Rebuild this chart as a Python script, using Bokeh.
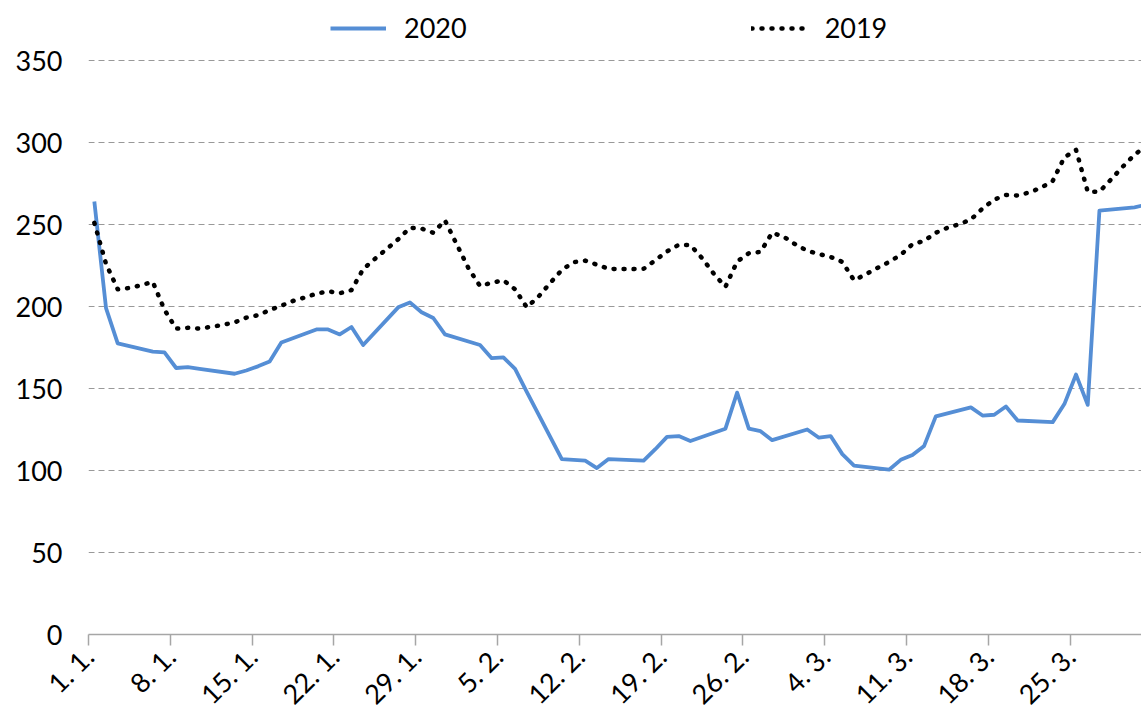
import math
from bokeh.plotting import figure
from bokeh.models import FixedTicker, Legend, LegendItem, Range1d
from bokeh.embed import file_html
from bokeh.resources import INLINE

# ---------------- data ----------------
# x axis: day of year (0 = 1 January); ticks every 7 days
tick_days = [0, 7, 14, 21, 28, 35, 42, 49, 56, 63, 70, 77, 84]
tick_labels = ["1. 1.", "8. 1.", "15. 1.", "22. 1.", "29. 1.", "5. 2.", "12. 2.",
               "19. 2.", "26. 2.", "4. 3.", "11. 3.", "18. 3.", "25. 3."]
y_ticks = [0, 50, 100, 150, 200, 250, 300, 350]

# 2020 – working days only
days_2020 = [0, 1, 2, 5, 6, 7, 8, 9, 12, 13, 14, 15, 16, 19, 20, 21, 22, 23,
             26, 27, 28, 29, 30, 33, 34, 35, 36, 37, 40, 41, 42, 43, 44,
             47, 48, 49, 50, 51, 54, 55, 56, 57, 58, 61, 62, 63, 64, 65,
             68, 69, 70, 71, 72, 75, 76, 77, 78, 79, 82, 83, 84, 85, 86, 89, 90]
values_2020 = [264, 199, 177.5, 172.5, 172, 162.5, 163, 162, 159, 161, 163.5, 166.5, 178,
               186, 186, 183, 187.5, 176.5,
               199.5, 202.5, 196.5, 193, 183, 176.5, 168.5, 169, 162, 148, 107, 106.5, 106, 101.5, 107,
               106, 113, 120.5, 121, 118, 125.5, 147.5, 125.5, 124, 118.5, 125, 120, 121, 110, 103,
               100.5, 106.5, 109.5, 115, 133, 138.5, 133.5, 134, 139, 130.5, 129.5, 140.5, 158.5, 140,
               258.5, 260.5, 262]

# 2019 – daily values
values_2019 = [251, 226, 210.5, 211.3, 213, 215, 198, 186.5, 187, 186.5,
               187.6, 188.8, 190.3, 193.2, 194.7, 197.8, 200.5, 203.4, 205.5, 207.8,
               209.3, 208.1, 210, 222.8, 229, 235, 241, 248, 247.5, 245,
               252.5, 238, 223.5, 212.5, 214.5, 216, 210.5, 199.5, 206, 214.3,
               222.3, 227, 228, 225.5, 223, 222.8, 222.8, 223, 228.2, 233.6,
               237.6, 237.5, 229.5, 220, 212, 227.4, 232.5, 233.3, 245, 242.5,
               237.8, 234, 232, 230.2, 227.2, 216, 219.6, 223.5, 227.2, 231.5,
               238, 240, 245, 248, 250.2, 253, 259.8, 265.2, 268, 267.7,
               269.6, 272.4, 276.5, 291, 295.5, 270, 270, 277.5, 285.3, 292.5, 298]
days_2019 = list(range(len(values_2019)))

# ---------------- figure ----------------
FONT = "Lato"
FS = "27px"

p = figure(width=1141, height=724, output_backend="svg", toolbar_location=None,
           x_range=Range1d(0, 90.1), y_range=Range1d(0, 386.6),
           min_border_left=88, min_border_right=0, min_border_top=0, min_border_bottom=90)
p.outline_line_color = None
p.background_fill_color = "white"
p.border_fill_color = "white"

# values are plotted in the middle of each day slot
x20 = [d + 0.5 for d in days_2020]
x19 = [d + 0.5 for d in days_2019]

r20 = p.line(x20, values_2020, line_color="#558ED5", line_width=3.8, line_join="round")
r19 = p.line(x19, values_2019, line_color="black", line_width=4.5, line_dash="1 9",
             line_cap="round", line_join="round")

legend = Legend(items=[LegendItem(label="2020", renderers=[r20]),
                       LegendItem(label="2019", renderers=[r19])],
                orientation="horizontal", location=(242, 590),
                spacing=284, glyph_width=56, label_standoff=18,
                padding=0, margin=0, border_line_color=None, background_fill_alpha=0,
                label_text_font=FONT, label_text_font_size=FS, label_text_color="black")
p.add_layout(legend)

# x axis
p.xaxis.ticker = FixedTicker(ticks=tick_days)
p.xaxis.major_label_overrides = {d: lab for d, lab in zip(tick_days, tick_labels)}
p.xaxis.major_label_orientation = math.pi / 4
p.xaxis.axis_line_color = "#a6a6a6"
p.xaxis.axis_line_width = 1.5
p.xaxis.major_tick_line_color = "#a6a6a6"
p.xaxis.major_tick_line_width = 1.5
p.xaxis.major_tick_out = 11
p.xaxis.major_tick_in = 0
p.xaxis.minor_tick_line_color = None
p.xaxis.major_label_standoff = 6
p.xaxis.major_label_text_font = FONT
p.xaxis.major_label_text_font_size = FS
p.xaxis.major_label_text_color = "black"

# y axis
p.yaxis.ticker = FixedTicker(ticks=y_ticks)
p.yaxis.axis_line_color = None
p.yaxis.major_tick_line_color = None
p.yaxis.minor_tick_line_color = None
p.yaxis.major_label_standoff = 20
p.yaxis.major_label_text_font = FONT
p.yaxis.major_label_text_font_size = FS
p.yaxis.major_label_text_color = "black"

p.xgrid.grid_line_color = None
p.ygrid.grid_line_color = "#999999"
p.ygrid.grid_line_dash = "6 4"
p.ygrid.grid_line_width = 1

open("out.html", "w").write(file_html(p, INLINE))
